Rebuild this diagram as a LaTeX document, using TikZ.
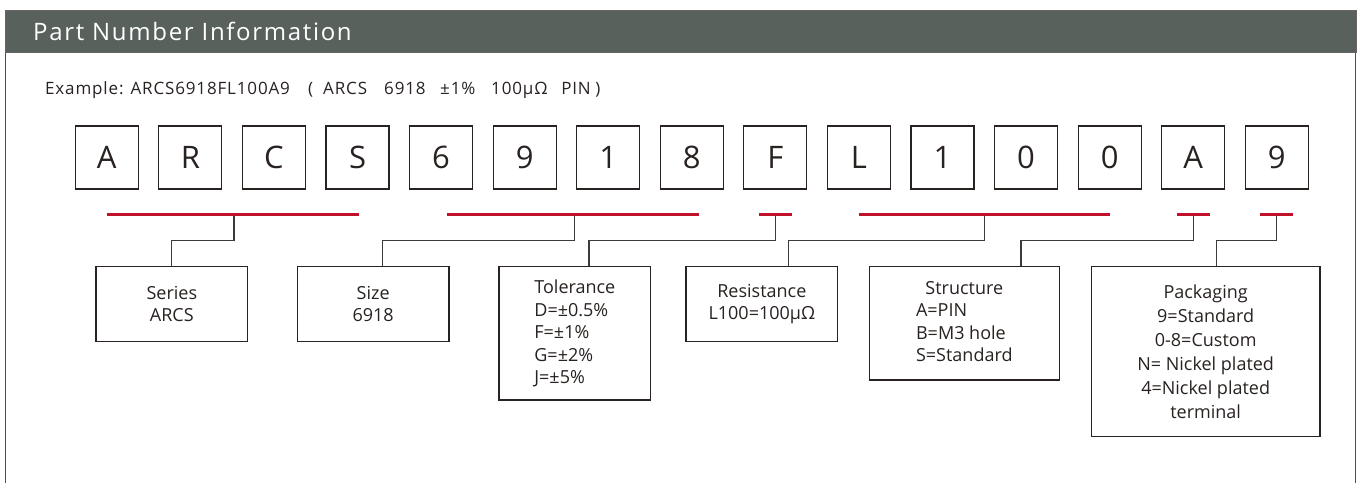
\documentclass[tikz,border=0pt]{standalone}
\usepackage{fontspec}
\setmainfont{Open Sans}
\definecolor{hdr}{RGB}{89,97,93}
\definecolor{redc}{RGB}{192,18,42}
\definecolor{ink}{RGB}{40,34,32}
\definecolor{wirec}{RGB}{62,58,57}
\tikzset{
 letter/.style={draw=ink, line width=1.2pt, minimum width=63pt, minimum height=63pt, inner sep=0pt, text=ink, text height=22.5pt, text depth=0pt, font=\fontsize{31}{31}\selectfont},
 info/.style={draw=ink, line width=1.2pt, inner sep=0pt, align=center, text=ink, font=\fontsize{18}{22.5}\selectfont},
 bar/.style={fill=redc, minimum height=3.4pt, inner sep=0pt, outer sep=0pt},
 wire/.style={draw=wirec, line width=1.3pt},
}
\newcommand{\seg}[2]{\makebox[#1pt][l]{#2}}
\begin{document}
\begin{tikzpicture}[x=1pt,y=-1pt]
\useasboundingbox (0,0) rectangle (1360,483);
\fill[white] (0,0) rectangle (1360,483);
\draw[draw=ink!80, line width=1pt] (5.5,51) -- (5.5,483) (1355.5,51) -- (1355.5,483);
\node[draw=ink!70, fill=hdr, line width=1pt, minimum width=1350.5pt, minimum height=42pt, inner sep=0pt, anchor=north west] (header) at (5,9.5) {};
\node[text=white, anchor=base west, font=\fontsize{24}{24}\selectfont\addfontfeature{LetterSpace=7}, inner sep=0pt] (title) at (33,40.7) {Part Number Information};
\node[anchor=base west, inner sep=0pt, text=ink, font=\fontsize{17}{17}\selectfont\addfontfeature{LetterSpace=5}] (example) at (45,94.3) {\seg{263}{Example: ARCS6918FL100A9}\seg{15}{(}\seg{61}{ARCS}\seg{56}{6918}\seg{51}{±1\%}\seg{70}{100μΩ}\seg{34}{PIN})};
\foreach \c [count=\i from 0] in {A,R,C,S,6,9,1,8,F,L,1,0,0,A,9}
  \node[letter] (b\i) at ({106.8+83.57*\i},157.5) {\c};
\node[bar, minimum width=252.3pt] (r1) at (232.85,214.3) {};
\node[bar, minimum width=252.3pt] (r2) at (572.85,214.3) {};
\node[bar, minimum width=32.7pt] (r3) at (775.35,214.3) {};
\node[bar, minimum width=251pt] (r4) at (984.5,214.3) {};
\node[bar, minimum width=33.3pt] (r5) at (1193.35,214.3) {};
\node[bar, minimum width=32.7pt] (r6) at (1276.35,214.3) {};
\node[info, minimum width=151.7pt, minimum height=75pt] (series) at (171.85,304.2) {Series\\ARCS};
\node[info, minimum width=151.7pt, minimum height=75pt] (size) at (373.15,304.2) {Size\\6918};
\node[info, minimum width=151.7pt, minimum height=133.3pt, align=left] (tol) at (574.85,333.35) {Tolerance\\D=±0.5\%\\F=±1\%\\G=±2\%\\J=±5\%};
\node[info, minimum width=151.7pt, minimum height=75pt] (res) at (761.85,304.2) {Resistance\\L100=100μΩ};
\node[info, minimum width=190pt, minimum height=113.3pt] (struct) at (964.3,323.35) {\begin{tabular}{@{}l@{}}\multicolumn{1}{@{}c@{}}{Structure}\\A=PIN\\B=M3 hole\\S=Standard\end{tabular}};
\node[info, minimum width=228.7pt, minimum height=170pt, font=\fontsize{18}{24}\selectfont] (pack) at (1205.65,351.7) {Packaging\\9=Standard\\0-8=Custom\\N= Nickel plated\\4=Nickel plated\\terminal};
\draw[wire] ([xshift=1.15pt]r1.south) -- ++(0,24.7) -| ([xshift=-0.15pt]series.north);
\draw[wire] ([xshift=1.45pt]r2.south) -- ++(0,24.7) -| ([xshift=9.55pt]size.north);
\draw[wire] (r3.south) -- ++(0,24.7) -| ([xshift=14.15pt]tol.north);
\draw[wire] (r4.south) -- ++(0,24.7) -| ([xshift=26.85pt]res.north);
\draw[wire] (r5.south) -- ++(0,24.7) -| ([xshift=56.7pt]struct.north);
\draw[wire] ([xshift=0.35pt]r6.south) -- ++(0,24.7) -| ([xshift=11.05pt]pack.north);
\end{tikzpicture}
\end{document}
